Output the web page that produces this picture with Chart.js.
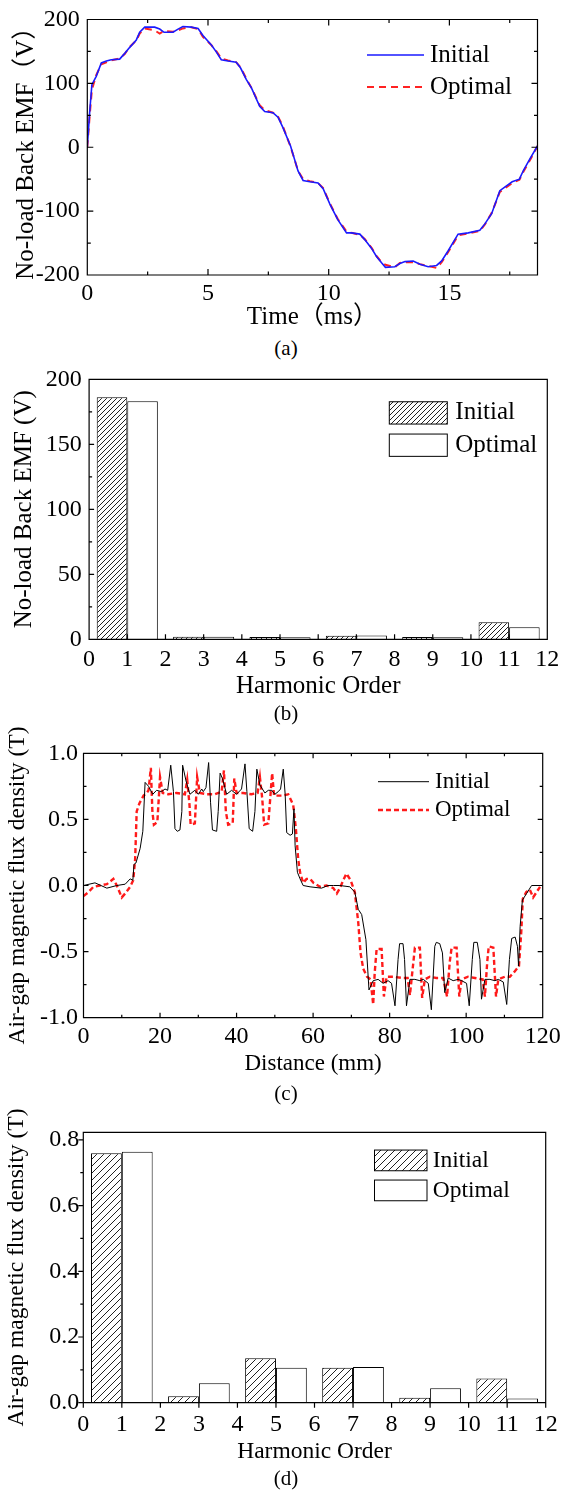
<!DOCTYPE html>
<html>
<head>
<meta charset="utf-8">
<script src="https://cdn.jsdelivr.net/npm/chart.js@4.4.1/dist/chart.umd.min.js"></script>
<style>
  body { margin: 0; background: #fff; }
  #page { position: relative; width: 568px; height: 1490px; overflow: hidden; background: #fff; }
  canvas { position: absolute; left: 0; }
  .cap { position: absolute; left: 0; width: 572px; text-align: center; color: #000;
         font-family: 'Liberation Serif', 'Times New Roman', serif; font-size: 21px; line-height: 21px; }
</style>
</head>
<body>
<div id="page">
  <canvas id="chartA" width="568" height="335" style="top:0px"></canvas>
  <div class="cap" style="top:338px">(a)</div>
  <canvas id="chartB" width="568" height="345" style="top:360px"></canvas>
  <div class="cap" style="top:703px">(b)</div>
  <canvas id="chartC" width="568" height="366" style="top:712px"></canvas>
  <div class="cap" style="top:1083px">(c)</div>
  <canvas id="chartD" width="568" height="380" style="top:1090px"></canvas>
  <div class="cap" style="top:1468px">(d)</div>
</div>
<script>
// (a) no-load back EMF over one electrical period
const emfTime = [0, 0.1, 0.19, 0.37, 0.58, 0.79, 0.99, 1.34, 1.55, 1.75, 2.03, 2.17, 2.38, 2.79, 3.0, 3.18,
  3.55, 3.76, 3.96, 4.31, 4.59, 4.79, 5.14, 5.35, 5.55, 5.83, 6.17, 6.35, 6.59, 6.8, 7.14, 7.35, 7.69, 7.9,
  8.1, 8.42, 8.73, 8.94, 9.22, 9.56, 9.77, 10.05, 10.37, 10.74, 10.94, 11.29, 11.5, 11.77, 11.98, 12.19,
  12.35, 12.74, 12.95, 13.16, 13.5, 13.78, 14.12, 14.47, 14.68, 14.95, 15.36, 15.78, 16.26, 16.47, 16.75,
  17.09, 17.6, 17.9, 18.07, 18.37, 18.65];
const emfInitial = [0, 56, 98, 111, 132, 135, 137, 138, 147, 156, 168, 180, 188, 188, 185, 180,
  180, 185, 189, 188, 186, 175, 160, 149, 137, 135, 133, 124, 106, 93, 64, 56, 54, 47,
  31, 2, -37, -52, -54, -56, -65, -89, -113, -134, -134, -136, -145, -158, -171, -181,
  -188, -187, -182, -179, -178, -183, -187, -185, -178, -162, -136, -134, -130, -120, -104,
  -68, -54, -50, -36, -16, 2];
const emfOptimal = [0, 50, 90, 113, 130, 133, 136, 139, 146, 157, 167, 178, 186, 183, 178, 182,
  181, 183, 186, 188, 185, 173, 160, 150, 139, 136, 133, 125, 107, 93, 66, 58, 54, 48,
  33, 1, -37, -50, -53, -56, -64, -88, -112, -132, -134, -137, -144, -157, -170, -180,
  -184, -188, -181, -180, -180, -183, -186, -189, -180, -164, -138, -135, -131, -121, -103,
  -70, -56, -51, -38, -18, 2];
const emfTimeTicks = [0, 5, 10, 15];
const emfTimeMinor = [2.5, 7.5, 12.5, 17.5];
const emfTicks = [-200, -100, 0, 100, 200];
const emfMinor = [-150, -50, 50, 150];

// (b) back EMF harmonic spectrum
const harmonicOrders = [1, 3, 5, 7, 9, 11];
const emfHarmInitial = [186.1, 2.0, 1.8, 2.8, 1.8, 13.1];
const emfHarmOptimal = [183.1, 2.0, 1.6, 3.0, 1.6, 9.3];
const orderTicks = [0, 1, 2, 3, 4, 5, 6, 7, 8, 9, 10, 11, 12];
const emfHarmTicks = [0, 50, 100, 150, 200];
const emfHarmMinor = [25, 75, 125, 175];

// (c) air-gap flux density along the air gap
const fluxInitialX = [0, 3.0, 6.1, 8.7, 10.9, 12.2, 12.9, 13.2, 13.7, 14.8, 15.5, 16.1, 17.0, 18.1, 19.1,
  20.4, 21.3, 22.0, 22.8, 23.5, 23.9, 24.5, 25.2, 25.7, 25.9, 26.8, 27.8, 29.1, 30.0, 30.9, 31.3, 32.0,
  32.7, 33.2, 33.7, 34.8, 35.2, 35.7, 36.3, 37.4, 38.7, 40.0, 41.3, 42.2, 42.7, 43.3, 44.2, 44.8, 45.3,
  46.1, 47.4, 48.3, 49.2, 50.0, 50.9, 51.5, 52.2, 52.7, 53.1, 54.0, 54.6, 55.0, 55.3, 55.9, 56.6, 57.4,
  59.2, 62.2, 63.9, 65.3, 67.0, 69.6, 70.9, 71.8, 72.7, 73.8, 74.6, 75.7, 77.0, 78.3, 79.6, 80.5, 81.4,
  82.2, 82.6, 83.5, 83.9, 84.4, 85.3, 86.6, 87.9, 88.8, 90.1, 90.9, 91.8, 92.2, 93.1, 93.8, 94.4, 95.3,
  96.6, 97.9, 98.8, 100.1, 100.8, 101.6, 102.0, 102.9, 103.6, 104.0, 104.9, 106.2, 107.5, 108.4, 109.7,
  110.6, 111.3, 111.9, 112.8, 113.4, 113.7, 114.1, 114.7, 115.8, 117.1, 120];
const fluxInitialY = [0, 0.02, -0.02, 0, 0.01, 0.05, 0.04, 0.16, 0.17, 0.28, 0.41, 0.78, 0.75, 0.69, 0.72,
  0.71, 0.73, 0.72, 0.91, 0.71, 0.43, 0.41, 0.42, 0.56, 0.91, 0.79, 0.69, 0.72, 0.69, 0.73, 0.71, 0.74,
  0.93, 0.63, 0.42, 0.41, 0.56, 0.85, 0.81, 0.69, 0.72, 0.69, 0.73, 0.92, 0.71, 0.43, 0.41, 0.56, 0.88,
  0.76, 0.70, 0.72, 0.72, 0.69, 0.71, 0.73, 0.88, 0.69, 0.40, 0.38, 0.39, 0.58, 0.30, 0.10, 0.05, 0.0,
  -0.01, -0.02, 0, 0, 0, -0.01, -0.05, -0.18, -0.22, -0.41, -0.79, -0.72, -0.71, -0.74, -0.72, -0.74, -0.91,
  -0.56, -0.44, -0.44, -0.56, -0.91, -0.71, -0.71, -0.72, -0.71, -0.74, -0.94, -0.46, -0.43, -0.44, -0.51, -0.81, -0.70,
  -0.72, -0.71, -0.72, -0.74, -0.91, -0.56, -0.43, -0.43, -0.56, -0.86, -0.71, -0.71, -0.72, -0.71, -0.73,
  -0.90, -0.56, -0.40, -0.39, -0.46, -0.61, -0.31, -0.11, -0.06, 0, 0];
const fluxOptimalX = [0, 1.3, 2.6, 4.3, 6.1, 7.8, 8.7, 10.0, 10.9, 12.2, 13.0, 13.5, 13.9, 14.6, 15.7, 16.5,
  17.0, 17.6, 18.0, 18.4, 19.3, 20.0, 20.7, 22.2, 24.3, 26.5, 27.1, 27.7, 28.0, 29.1, 29.7, 30.4, 32.2,
  34.3, 36.1, 36.7, 37.2, 37.8, 39.0, 39.4, 40.0, 41.7, 43.9, 45.5, 46.1, 46.7, 47.2, 48.3, 49.3, 49.8,
  51.8, 53.5, 54.8, 55.5, 56.1, 56.6, 57.4, 58.3, 59.2, 60.1, 61.8, 63.5, 65.3, 66.2, 67.0, 67.9, 68.7,
  69.8, 70.9, 71.8, 72.4, 73.1, 74.1, 75.0, 75.7, 76.1, 76.6, 77.9, 78.5, 79.2, 80.9, 83.5, 84.7, 85.3,
  86.2, 86.6, 87.9, 88.5, 89.2, 90.5, 92.2, 94.0, 95.0, 95.7, 96.2, 97.5, 98.2, 98.8, 100.5, 102.3, 104.3,
  104.9, 105.5, 105.9, 107.1, 107.8, 108.4, 110.1, 111.4, 112.4, 113.8, 114.4, 114.8, 115.7, 116.6, 117.5,
  118.4, 119.3];
const fluxOptimalY = [-0.08, -0.05, -0.01, 0.0, 0.01, 0.05, 0.0, -0.09, -0.06, -0.01, 0.04, 0.20, 0.56, 0.62,
  0.68, 0.70, 0.72, 0.89, 0.56, 0.46, 0.48, 0.82, 0.70, 0.69, 0.70, 0.69, 0.80, 0.61, 0.46, 0.47, 0.82, 0.70,
  0.69, 0.69, 0.71, 0.87, 0.56, 0.46, 0.47, 0.81, 0.70, 0.70, 0.69, 0.70, 0.82, 0.66, 0.46, 0.47, 0.85,
  0.68, 0.68, 0.69, 0.61, 0.43, 0.20, 0.10, 0.02, 0.05, 0.05, 0.02, -0.01, 0.0, -0.02, -0.06, -0.02, 0.04,
  0.09, 0.04, -0.05, -0.28, -0.51, -0.63, -0.69, -0.71, -0.90, -0.66, -0.48, -0.48, -0.84, -0.69, -0.69,
  -0.70, -0.70, -0.83, -0.58, -0.47, -0.47, -0.85, -0.71, -0.69, -0.70, -0.70, -0.84, -0.58, -0.47, -0.47,
  -0.84, -0.71, -0.69, -0.70, -0.71, -0.84, -0.58, -0.46, -0.47, -0.84, -0.71, -0.69, -0.69, -0.66, -0.61,
  -0.35, -0.10, -0.05, -0.03, -0.09, -0.05, -0.01];
const distTicks = [0, 20, 40, 60, 80, 100, 120];
const distMinor = [10, 30, 50, 70, 90, 110];
const fluxTicks = [-1, -0.5, 0, 0.5, 1];
const fluxMinor = [-0.75, -0.25, 0.25, 0.75];

// (d) air-gap flux density harmonic spectrum
const fluxHarmInitial = [0.759, 0.020, 0.135, 0.106, 0.015, 0.074];
const fluxHarmOptimal = [0.764, 0.059, 0.106, 0.109, 0.044, 0.013];
const fluxHarmTicks = [0, 0.2, 0.4, 0.6, 0.8];
const fluxHarmMinor = [0.1, 0.3, 0.5, 0.7];

const SERIF = "'Liberation Serif', 'Times New Roman', 'Noto Sans CJK SC', serif";
Chart.defaults.font.family = SERIF;
Chart.defaults.color = '#000';
Chart.defaults.animation = false;

const pts = (xs, ys) => xs.map((x, i) => ({ x: x, y: ys[i] }));

// diagonal hatch fill like the Origin "////" pattern
function hatch(s) {
  const c = document.createElement('canvas');
  c.width = s; c.height = s;
  const g = c.getContext('2d');
  g.fillStyle = '#fff';
  g.fillRect(0, 0, s, s);
  g.strokeStyle = '#222';
  g.lineWidth = 1;
  g.beginPath();
  g.moveTo(-1, s + 1); g.lineTo(s + 1, -1);
  g.moveTo(-1, 1); g.lineTo(1, -1);
  g.moveTo(s - 1, s + 1); g.lineTo(s + 1, s - 1);
  g.stroke();
  return g.createPattern(c, 'repeat');
}

// box frame plus major/minor tick marks drawn from the scales
const framePlugin = {
  id: 'frame',
  afterDatasetsDraw(chart, args, o) {
    const { ctx, chartArea: a } = chart;
    const xs = chart.scales.x, ys = chart.scales.y;
    const d = o.inward ? 1 : -1;
    ctx.save();
    ctx.strokeStyle = '#000';
    ctx.lineWidth = 1.2;
    ctx.beginPath();
    const seg = (x1, y1, x2, y2) => { ctx.moveTo(x1, y1); ctx.lineTo(x2, y2); };
    const xMarks = (vals, len) => vals.forEach(v => {
      const p = xs.getPixelForValue(v);
      seg(p, a.bottom, p, a.bottom - d * len);
      if (o.mirror) seg(p, a.top, p, a.top + d * len);
    });
    const yMarks = (vals, len) => vals.forEach(v => {
      const p = ys.getPixelForValue(v);
      seg(a.left, p, a.left + d * len, p);
      if (o.mirror) seg(a.right, p, a.right - d * len, p);
    });
    xMarks(xs.ticks.map(t => t.value), o.major);
    xMarks(o.xMinor || [], o.minor);
    yMarks(ys.ticks.map(t => t.value), o.major);
    yMarks(o.yMinor || [], o.minor);
    ctx.rect(a.left, a.top, a.right - a.left, a.bottom - a.top);
    ctx.stroke();
    ctx.restore();
  }
};

// legend drawn inside the plot, samples taken from the datasets themselves
const legendPlugin = {
  id: 'boxLegend',
  afterDraw(chart, args, o) {
    const ctx = chart.ctx;
    ctx.save();
    ctx.font = o.size + 'px ' + SERIF;
    ctx.textBaseline = 'middle';
    chart.data.datasets.forEach((ds, i) => {
      const cy = o.y + i * o.dy;
      if (o.box) {
        ctx.fillStyle = ds.backgroundColor;
        ctx.fillRect(o.x, cy - o.h / 2, o.w, o.h);
        ctx.strokeStyle = '#000';
        ctx.lineWidth = 1;
        ctx.strokeRect(o.x, cy - o.h / 2, o.w, o.h);
      } else {
        ctx.strokeStyle = ds.borderColor;
        ctx.lineWidth = ds.borderWidth;
        ctx.setLineDash(ds.borderDash || []);
        ctx.beginPath();
        ctx.moveTo(o.x, cy);
        ctx.lineTo(o.x + o.w, cy);
        ctx.stroke();
        ctx.setLineDash([]);
      }
      ctx.fillStyle = '#000';
      ctx.fillText(ds.label, o.x + o.w + o.gap, cy);
    });
    ctx.restore();
  }
};

function xAxis(o) {
  return {
    type: 'linear', position: 'bottom', min: o.min, max: o.max, offset: false,
    grid: { display: false, drawTicks: false }, border: { display: false },
    afterBuildTicks: s => { s.ticks = o.ticks.map(v => ({ value: v })); },
    afterFit: s => { s.height = o.height; },
    ticks: { font: { size: 24, lineHeight: 1 }, padding: o.pad, maxRotation: 0, autoSkip: false,
             callback: o.fmt || (v => String(v)) },
    title: { display: true, text: o.title, font: { size: o.titleSize, lineHeight: 1 },
             padding: { top: 0, bottom: o.titlePad } }
  };
}

function yAxis(o) {
  return {
    type: 'linear', position: 'left', min: o.min, max: o.max,
    grid: { display: false, drawTicks: false }, border: { display: false },
    afterBuildTicks: s => { s.ticks = o.ticks.map(v => ({ value: v })); },
    afterFit: s => { s.width = o.width; },
    ticks: { font: { size: 24, lineHeight: 1 }, padding: o.pad, autoSkip: false,
             callback: o.fmt || (v => String(v)) },
    title: { display: true, text: o.title, font: { size: o.titleSize, lineHeight: 1 },
             padding: { top: o.titlePad, bottom: 0 } }
  };
}

function baseOptions(pad, scales, frame, legend) {
  return {
    responsive: false, devicePixelRatio: 1, animation: false,
    layout: { padding: pad },
    scales: scales,
    plugins: { legend: { display: false }, tooltip: { enabled: false }, frame: frame, boxLegend: legend }
  };
}

const fix1 = v => Number(v).toFixed(1);

// (a)
new Chart(document.getElementById('chartA'), {
  type: 'line',
  data: {
    datasets: [
      { label: 'Initial', data: pts(emfTime, emfInitial), borderColor: '#1a1aff', borderWidth: 1.6,
        pointRadius: 0, tension: 0 },
      { label: 'Optimal', data: pts(emfTime, emfOptimal), borderColor: '#ff2222', borderWidth: 2,
        borderDash: [7, 5], pointRadius: 0, tension: 0 }
    ]
  },
  options: baseOptions(
    { top: 17.3, right: 30.5, bottom: 0, left: 0 },
    {
      x: xAxis({ min: 0, max: 18.65, ticks: emfTimeTicks, height: 60, pad: 7, title: 'Time（ms）', titleSize: 25, titlePad: 5.5 }),
      y: yAxis({ min: -200, max: 200, ticks: emfTicks, width: 87.3, pad: 7.5, title: 'No-load Back EMF（V）', titleSize: 25, titlePad: 13.5 })
    },
    { inward: true, mirror: true, major: 6, minor: 3.5, xMinor: emfTimeMinor, yMinor: emfMinor },
    { x: 367, y: 55, dy: 32, w: 57, gap: 6, size: 25 }
  ),
  plugins: [framePlugin, legendPlugin]
});

// (b)
new Chart(document.getElementById('chartB'), {
  type: 'bar',
  data: {
    datasets: [
      { label: 'Initial', data: pts(harmonicOrders, emfHarmInitial), backgroundColor: hatch(5),
        borderColor: '#000', borderWidth: 1, categoryPercentage: 1.6, barPercentage: 1 },
      { label: 'Optimal', data: pts(harmonicOrders, emfHarmOptimal), backgroundColor: '#fff',
        borderColor: '#000', borderWidth: 1, categoryPercentage: 1.6, barPercentage: 1 }
    ]
  },
  options: baseOptions(
    { top: 16, right: 12.4, bottom: 0, left: 0 },
    {
      x: xAxis({ min: 0, max: 12, ticks: orderTicks, height: 65.7, pad: 8.7, title: 'Harmonic Order', titleSize: 25, titlePad: 5.8 }),
      y: yAxis({ min: 0, max: 200, ticks: emfHarmTicks, width: 89.1, pad: 7.3, title: 'No-load Back EMF (V)', titleSize: 25, titlePad: 12 })
    },
    { inward: true, mirror: false, major: 5, minor: 3, xMinor: [], yMinor: emfHarmMinor },
    { box: true, x: 389.3, y: 52.9, dy: 32.3, w: 58, h: 22.3, gap: 8, size: 25 }
  ),
  plugins: [framePlugin, legendPlugin]
});

// (c)
new Chart(document.getElementById('chartC'), {
  type: 'line',
  data: {
    datasets: [
      { label: 'Initial', data: pts(fluxInitialX, fluxInitialY), borderColor: '#000', borderWidth: 1,
        pointRadius: 0, tension: 0 },
      { label: 'Optimal', data: pts(fluxOptimalX, fluxOptimalY), borderColor: '#ff1a1a', borderWidth: 2.4,
        borderDash: [5, 3], pointRadius: 0, tension: 0 }
    ]
  },
  options: baseOptions(
    { top: 41.3, right: 23.6, bottom: 0, left: 0 },
    {
      x: xAxis({ min: 0, max: 120, ticks: distTicks, height: 60.3, pad: 7.3, title: 'Distance (mm)', titleSize: 23, titlePad: 2.5 }),
      y: yAxis({ min: -1, max: 1, ticks: fluxTicks, width: 83.5, pad: 5.4, fmt: fix1, title: 'Air-gap magnetic flux density (T)', titleSize: 23.5, titlePad: 6.5 })
    },
    { inward: true, mirror: true, major: 5, minor: 3, xMinor: distMinor, yMinor: fluxMinor },
    { x: 378, y: 69.7, dy: 28.3, w: 51, gap: 6, size: 23 }
  ),
  plugins: [framePlugin, legendPlugin]
});

// (d)
new Chart(document.getElementById('chartD'), {
  type: 'bar',
  data: {
    datasets: [
      { label: 'Initial', data: pts(harmonicOrders, fluxHarmInitial), backgroundColor: hatch(7),
        borderColor: '#000', borderWidth: 1, categoryPercentage: 1.6, barPercentage: 1 },
      { label: 'Optimal', data: pts(harmonicOrders, fluxHarmOptimal), backgroundColor: '#fff',
        borderColor: '#000', borderWidth: 1, categoryPercentage: 1.6, barPercentage: 1 }
    ]
  },
  options: baseOptions(
    { top: 42.3, right: 9.8, bottom: 0, left: 0 },
    {
      x: xAxis({ min: 0, max: 12, ticks: orderTicks, height: 67.3, pad: 10.3, title: 'Harmonic Order', titleSize: 23.5, titlePad: 6.5 }),
      y: yAxis({ min: 0, max: 0.823, ticks: fluxHarmTicks, width: 83.3, pad: 4, fmt: fix1, title: 'Air-gap magnetic flux density (T)', titleSize: 23.5, titlePad: 4.6 })
    },
    { inward: false, mirror: false, major: 5, minor: 3, xMinor: [], yMinor: fluxHarmMinor },
    { box: true, x: 374.5, y: 70.4, dy: 30, w: 52.5, h: 20.7, gap: 5.7, size: 23.5 }
  ),
  plugins: [framePlugin, legendPlugin]
});
</script>
</body>
</html>
